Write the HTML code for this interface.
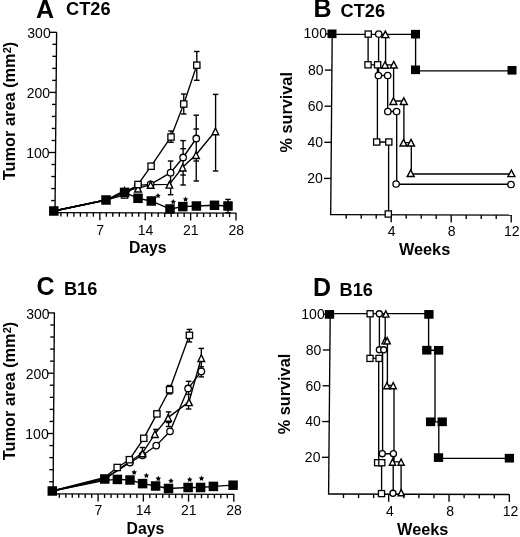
<!DOCTYPE html>
<html><head><meta charset="utf-8"><style>
html,body{margin:0;padding:0;background:#fff;}
svg{display:block;will-change:transform;}
text{font-family:"Liberation Sans",sans-serif;stroke:none;fill:#000;}
</style></head><body>
<svg width="520" height="537" viewBox="0 0 520 537">
<rect width="520" height="537" fill="#fff"/>
<g stroke="#000" fill="#000">
<line x1="56.60" y1="32.20" x2="55.00" y2="212.60" stroke-width="1.35"/>
<line x1="51.11" y1="200.58" x2="55.11" y2="200.58" stroke-width="1.35"/>
<line x1="51.21" y1="188.56" x2="55.21" y2="188.56" stroke-width="1.35"/>
<line x1="51.32" y1="176.54" x2="55.32" y2="176.54" stroke-width="1.35"/>
<line x1="51.43" y1="164.52" x2="55.43" y2="164.52" stroke-width="1.35"/>
<line x1="49.03" y1="152.50" x2="55.53" y2="152.50" stroke-width="1.35"/>
<text x="49.63" y="158.40" font-size="14.0" font-weight="normal" text-anchor="end" >100</text>
<line x1="51.64" y1="140.48" x2="55.64" y2="140.48" stroke-width="1.35"/>
<line x1="51.75" y1="128.46" x2="55.75" y2="128.46" stroke-width="1.35"/>
<line x1="51.85" y1="116.44" x2="55.85" y2="116.44" stroke-width="1.35"/>
<line x1="51.96" y1="104.42" x2="55.96" y2="104.42" stroke-width="1.35"/>
<line x1="49.57" y1="92.40" x2="56.07" y2="92.40" stroke-width="1.35"/>
<text x="50.17" y="98.30" font-size="14.0" font-weight="normal" text-anchor="end" >200</text>
<line x1="52.17" y1="80.38" x2="56.17" y2="80.38" stroke-width="1.35"/>
<line x1="52.28" y1="68.36" x2="56.28" y2="68.36" stroke-width="1.35"/>
<line x1="52.39" y1="56.34" x2="56.39" y2="56.34" stroke-width="1.35"/>
<line x1="52.49" y1="44.32" x2="56.49" y2="44.32" stroke-width="1.35"/>
<line x1="50.10" y1="32.30" x2="56.60" y2="32.30" stroke-width="1.35"/>
<text x="50.70" y="38.20" font-size="14.0" font-weight="normal" text-anchor="end" >300</text>
<line x1="54.33" y1="212.60" x2="236.30" y2="213.10" stroke-width="1.35"/>
<line x1="60.94" y1="212.62" x2="60.94" y2="216.62" stroke-width="1.35"/>
<line x1="67.42" y1="212.63" x2="67.42" y2="216.63" stroke-width="1.35"/>
<line x1="73.91" y1="212.65" x2="73.91" y2="216.65" stroke-width="1.35"/>
<line x1="80.39" y1="212.67" x2="80.39" y2="216.67" stroke-width="1.35"/>
<line x1="86.88" y1="212.69" x2="86.88" y2="216.69" stroke-width="1.35"/>
<line x1="93.36" y1="212.71" x2="93.36" y2="216.71" stroke-width="1.35"/>
<line x1="99.84" y1="212.72" x2="99.84" y2="220.22" stroke-width="1.35"/>
<text x="100.09" y="234.50" font-size="14.0" font-weight="normal" text-anchor="middle" >7</text>
<line x1="106.33" y1="212.74" x2="106.33" y2="216.74" stroke-width="1.35"/>
<line x1="112.81" y1="212.76" x2="112.81" y2="216.76" stroke-width="1.35"/>
<line x1="119.30" y1="212.78" x2="119.30" y2="216.78" stroke-width="1.35"/>
<line x1="125.79" y1="212.80" x2="125.79" y2="216.80" stroke-width="1.35"/>
<line x1="132.27" y1="212.81" x2="132.27" y2="216.81" stroke-width="1.35"/>
<line x1="138.75" y1="212.83" x2="138.75" y2="216.83" stroke-width="1.35"/>
<line x1="145.24" y1="212.85" x2="145.24" y2="220.35" stroke-width="1.35"/>
<text x="145.49" y="234.50" font-size="14.0" font-weight="normal" text-anchor="middle" >14</text>
<line x1="151.73" y1="212.87" x2="151.73" y2="216.87" stroke-width="1.35"/>
<line x1="158.21" y1="212.88" x2="158.21" y2="216.88" stroke-width="1.35"/>
<line x1="164.69" y1="212.90" x2="164.69" y2="216.90" stroke-width="1.35"/>
<line x1="171.18" y1="212.92" x2="171.18" y2="216.92" stroke-width="1.35"/>
<line x1="177.67" y1="212.94" x2="177.67" y2="216.94" stroke-width="1.35"/>
<line x1="184.15" y1="212.96" x2="184.15" y2="216.96" stroke-width="1.35"/>
<line x1="190.63" y1="212.97" x2="190.63" y2="220.47" stroke-width="1.35"/>
<text x="190.88" y="234.50" font-size="14.0" font-weight="normal" text-anchor="middle" >21</text>
<line x1="197.12" y1="212.99" x2="197.12" y2="216.99" stroke-width="1.35"/>
<line x1="203.61" y1="213.01" x2="203.61" y2="217.01" stroke-width="1.35"/>
<line x1="210.09" y1="213.03" x2="210.09" y2="217.03" stroke-width="1.35"/>
<line x1="216.57" y1="213.05" x2="216.57" y2="217.05" stroke-width="1.35"/>
<line x1="223.06" y1="213.06" x2="223.06" y2="217.06" stroke-width="1.35"/>
<line x1="229.55" y1="213.08" x2="229.55" y2="217.08" stroke-width="1.35"/>
<line x1="236.03" y1="213.10" x2="236.03" y2="220.60" stroke-width="1.35"/>
<text x="236.28" y="234.50" font-size="14.0" font-weight="normal" text-anchor="middle" >28</text>
<text x="128.90" y="253.30" font-size="15.8" font-weight="bold" text-anchor="start" >Days</text>
<text x="36.00" y="17.60" font-size="25" font-weight="bold" text-anchor="start" >A</text>
<text x="66.10" y="14.50" font-size="18.2" font-weight="bold" text-anchor="start" >CT26</text>
<text transform="translate(15.4,180.2) rotate(-90)" font-size="16.35" font-weight="bold">Tumor area (mm<tspan dy="-4.2" font-size="11">2</tspan><tspan dy="4.2">)</tspan></text>
<polyline points="53.80,211.00 106.00,200.00 124.60,192.40 138.00,198.30 151.30,201.00 170.00,209.00 182.80,206.60 196.40,206.00 214.50,205.30 228.00,206.00" fill="none" stroke-width="1.35"/>
<polyline points="53.80,211.00 106.00,200.00 124.60,195.00 138.00,184.50 151.10,166.20 171.00,137.00 183.75,104.00 196.80,65.20" fill="none" stroke-width="1.35"/>
<polyline points="53.80,211.00 106.00,200.00 124.50,192.00 138.00,185.30 150.60,184.40 170.60,172.70 183.10,157.50 196.25,138.50" fill="none" stroke-width="1.35"/>
<polyline points="53.80,211.00 106.00,200.00 124.50,190.60 138.00,188.30 150.60,184.60 169.40,184.40 182.60,167.30 196.00,154.80 215.40,131.00" fill="none" stroke-width="1.35"/>
<line x1="196.80" y1="51.50" x2="196.80" y2="80.30" stroke-width="1.35"/>
<line x1="194.05" y1="51.50" x2="199.55" y2="51.50" stroke-width="1.4"/>
<line x1="194.05" y1="80.30" x2="199.55" y2="80.30" stroke-width="1.4"/>
<line x1="183.75" y1="94.00" x2="183.75" y2="114.00" stroke-width="1.35"/>
<line x1="181.00" y1="94.00" x2="186.50" y2="94.00" stroke-width="1.4"/>
<line x1="181.00" y1="114.00" x2="186.50" y2="114.00" stroke-width="1.4"/>
<line x1="171.00" y1="131.00" x2="171.00" y2="142.30" stroke-width="1.35"/>
<line x1="168.25" y1="131.00" x2="173.75" y2="131.00" stroke-width="1.4"/>
<line x1="168.25" y1="142.30" x2="173.75" y2="142.30" stroke-width="1.4"/>
<line x1="196.25" y1="115.20" x2="196.25" y2="181.00" stroke-width="1.35"/>
<line x1="193.50" y1="115.20" x2="199.00" y2="115.20" stroke-width="1.4"/>
<line x1="193.50" y1="129.00" x2="199.00" y2="129.00" stroke-width="1.4"/>
<line x1="193.50" y1="161.00" x2="199.00" y2="161.00" stroke-width="1.4"/>
<line x1="193.50" y1="181.00" x2="199.00" y2="181.00" stroke-width="1.4"/>
<line x1="183.10" y1="140.60" x2="183.10" y2="185.00" stroke-width="1.35"/>
<line x1="180.35" y1="140.60" x2="185.85" y2="140.60" stroke-width="1.4"/>
<line x1="180.35" y1="148.70" x2="185.85" y2="148.70" stroke-width="1.4"/>
<line x1="180.35" y1="175.00" x2="185.85" y2="175.00" stroke-width="1.4"/>
<line x1="180.35" y1="185.00" x2="185.85" y2="185.00" stroke-width="1.4"/>
<line x1="170.60" y1="161.00" x2="170.60" y2="194.70" stroke-width="1.35"/>
<line x1="167.85" y1="161.00" x2="173.35" y2="161.00" stroke-width="1.4"/>
<line x1="167.85" y1="194.70" x2="173.35" y2="194.70" stroke-width="1.4"/>
<line x1="215.60" y1="94.40" x2="215.60" y2="171.00" stroke-width="1.35"/>
<line x1="212.85" y1="94.40" x2="218.35" y2="94.40" stroke-width="1.4"/>
<line x1="212.85" y1="171.00" x2="218.35" y2="171.00" stroke-width="1.4"/>
<line x1="228.00" y1="199.40" x2="228.00" y2="212.70" stroke-width="1.35"/>
<line x1="225.25" y1="199.40" x2="230.75" y2="199.40" stroke-width="1.4"/>
<line x1="225.25" y1="212.70" x2="230.75" y2="212.70" stroke-width="1.4"/>
<circle cx="124.50" cy="192.00" r="3.25" fill="#fff" stroke-width="1.3"/>
<circle cx="138.00" cy="185.30" r="3.25" fill="#fff" stroke-width="1.3"/>
<circle cx="150.60" cy="184.40" r="3.25" fill="#fff" stroke-width="1.3"/>
<circle cx="170.60" cy="172.70" r="3.25" fill="#fff" stroke-width="1.3"/>
<circle cx="183.10" cy="157.50" r="3.25" fill="#fff" stroke-width="1.3"/>
<circle cx="196.25" cy="138.50" r="3.25" fill="#fff" stroke-width="1.3"/>
<polygon points="124.50,187.60 127.81,194.30 121.19,194.30" fill="#fff" stroke-width="1.4" stroke-linejoin="miter"/>
<polygon points="138.00,185.30 141.31,192.00 134.69,192.00" fill="#fff" stroke-width="1.4" stroke-linejoin="miter"/>
<polygon points="150.60,181.60 153.91,188.30 147.29,188.30" fill="#fff" stroke-width="1.4" stroke-linejoin="miter"/>
<polygon points="169.40,181.40 172.71,188.10 166.09,188.10" fill="#fff" stroke-width="1.4" stroke-linejoin="miter"/>
<polygon points="182.60,164.30 185.91,171.00 179.29,171.00" fill="#fff" stroke-width="1.4" stroke-linejoin="miter"/>
<polygon points="196.00,151.80 199.31,158.50 192.69,158.50" fill="#fff" stroke-width="1.4" stroke-linejoin="miter"/>
<polygon points="215.40,128.00 218.71,134.70 212.09,134.70" fill="#fff" stroke-width="1.4" stroke-linejoin="miter"/>
<rect x="121.45" y="191.85" width="6.30" height="6.30" fill="#fff" stroke-width="1.3"/>
<rect x="134.85" y="181.35" width="6.30" height="6.30" fill="#fff" stroke-width="1.3"/>
<rect x="147.95" y="163.05" width="6.30" height="6.30" fill="#fff" stroke-width="1.3"/>
<rect x="167.85" y="133.85" width="6.30" height="6.30" fill="#fff" stroke-width="1.3"/>
<rect x="180.60" y="100.85" width="6.30" height="6.30" fill="#fff" stroke-width="1.3"/>
<rect x="193.65" y="62.05" width="6.30" height="6.30" fill="#fff" stroke-width="1.3"/>
<rect x="49.05" y="206.25" width="9.5" height="9.5" fill="#000" stroke="none"/>
<rect x="101.25" y="195.25" width="9.5" height="9.5" fill="#000" stroke="none"/>
<rect x="119.85" y="187.65" width="9.5" height="9.5" fill="#000" stroke="none"/>
<rect x="133.25" y="193.55" width="9.5" height="9.5" fill="#000" stroke="none"/>
<rect x="146.55" y="196.25" width="9.5" height="9.5" fill="#000" stroke="none"/>
<rect x="165.25" y="204.25" width="9.5" height="9.5" fill="#000" stroke="none"/>
<rect x="178.05" y="201.85" width="9.5" height="9.5" fill="#000" stroke="none"/>
<rect x="191.65" y="201.25" width="9.5" height="9.5" fill="#000" stroke="none"/>
<rect x="209.75" y="200.55" width="9.5" height="9.5" fill="#000" stroke="none"/>
<rect x="223.25" y="201.25" width="9.5" height="9.5" fill="#000" stroke="none"/>
<polygon points="158.00,192.90 158.85,194.63 160.76,194.90 159.38,196.25 159.70,198.15 158.00,197.25 156.30,198.15 156.62,196.25 155.24,194.90 157.15,194.63" fill="#000" stroke="none"/>
<polygon points="173.30,199.00 174.15,200.73 176.06,201.00 174.68,202.35 175.00,204.25 173.30,203.35 171.60,204.25 171.92,202.35 170.54,201.00 172.45,200.73" fill="#000" stroke="none"/>
<polygon points="185.60,196.40 186.45,198.13 188.36,198.40 186.98,199.75 187.30,201.65 185.60,200.75 183.90,201.65 184.22,199.75 182.84,198.40 184.75,198.13" fill="#000" stroke="none"/>
<line x1="332.20" y1="34.00" x2="330.70" y2="214.60" stroke-width="1.35"/>
<line x1="324.00" y1="178.40" x2="331.00" y2="178.40" stroke-width="1.35"/>
<text x="322.75" y="183.20" font-size="14.0" font-weight="normal" text-anchor="end" >20</text>
<line x1="324.30" y1="142.30" x2="331.30" y2="142.30" stroke-width="1.35"/>
<text x="323.05" y="147.10" font-size="14.0" font-weight="normal" text-anchor="end" >40</text>
<line x1="324.60" y1="106.20" x2="331.60" y2="106.20" stroke-width="1.35"/>
<text x="323.35" y="111.00" font-size="14.0" font-weight="normal" text-anchor="end" >60</text>
<line x1="324.90" y1="70.10" x2="331.90" y2="70.10" stroke-width="1.35"/>
<text x="323.65" y="74.90" font-size="14.0" font-weight="normal" text-anchor="end" >80</text>
<line x1="325.20" y1="34.00" x2="332.20" y2="34.00" stroke-width="1.35"/>
<text x="326.95" y="38.30" font-size="14.0" font-weight="normal" text-anchor="end" >100</text>
<line x1="330.02" y1="214.60" x2="511.40" y2="215.10" stroke-width="1.35"/>
<line x1="346.20" y1="214.64" x2="346.20" y2="218.64" stroke-width="1.35"/>
<line x1="361.20" y1="214.68" x2="361.20" y2="218.68" stroke-width="1.35"/>
<line x1="376.20" y1="214.73" x2="376.20" y2="218.73" stroke-width="1.35"/>
<line x1="391.20" y1="214.77" x2="391.20" y2="222.27" stroke-width="1.35"/>
<text x="391.70" y="235.90" font-size="14.0" font-weight="normal" text-anchor="middle" >4</text>
<line x1="406.20" y1="214.81" x2="406.20" y2="218.81" stroke-width="1.35"/>
<line x1="421.20" y1="214.85" x2="421.20" y2="218.85" stroke-width="1.35"/>
<line x1="436.20" y1="214.89" x2="436.20" y2="218.89" stroke-width="1.35"/>
<line x1="451.20" y1="214.93" x2="451.20" y2="222.43" stroke-width="1.35"/>
<text x="451.70" y="235.90" font-size="14.0" font-weight="normal" text-anchor="middle" >8</text>
<line x1="466.20" y1="214.97" x2="466.20" y2="218.97" stroke-width="1.35"/>
<line x1="481.20" y1="215.02" x2="481.20" y2="219.02" stroke-width="1.35"/>
<line x1="496.20" y1="215.06" x2="496.20" y2="219.06" stroke-width="1.35"/>
<line x1="511.20" y1="215.10" x2="511.20" y2="222.60" stroke-width="1.35"/>
<text x="511.70" y="235.90" font-size="14.0" font-weight="normal" text-anchor="middle" >12</text>
<text x="398.90" y="254.90" font-size="16.3" font-weight="bold" text-anchor="start" >Weeks</text>
<text x="313.60" y="17.40" font-size="25" font-weight="bold" text-anchor="start" >B</text>
<text x="340.60" y="17.00" font-size="18.2" font-weight="bold" text-anchor="start" >CT26</text>
<text transform="translate(291.8,152.6) rotate(-90)" font-size="16.3" font-weight="bold">% survival</text>
<polyline points="332.00,34.40 415.60,34.40 415.60,70.80 512.00,70.80" fill="none" stroke-width="1.35"/>
<polyline points="368.10,34.40 368.10,64.80 377.40,64.80 377.40,142.00 388.60,142.00 388.60,214.00" fill="none" stroke-width="1.35"/>
<polyline points="378.60,34.40 378.60,75.50 387.70,75.50 387.70,111.50 396.70,111.50 396.70,184.20 510.90,184.20" fill="none" stroke-width="1.35"/>
<polyline points="385.60,34.40 385.60,64.80 393.60,64.80 393.60,101.00 403.90,101.00 403.90,142.60 411.30,142.60 411.30,174.00 511.20,174.00" fill="none" stroke-width="1.35"/>
<circle cx="378.70" cy="34.10" r="3.20" fill="#fff" stroke-width="1.3"/>
<circle cx="378.40" cy="75.50" r="3.20" fill="#fff" stroke-width="1.3"/>
<circle cx="387.70" cy="75.50" r="3.20" fill="#fff" stroke-width="1.3"/>
<circle cx="387.80" cy="111.60" r="3.20" fill="#fff" stroke-width="1.3"/>
<circle cx="396.60" cy="111.60" r="3.20" fill="#fff" stroke-width="1.3"/>
<circle cx="396.10" cy="184.00" r="3.20" fill="#fff" stroke-width="1.3"/>
<circle cx="511.00" cy="184.50" r="3.20" fill="#fff" stroke-width="1.3"/>
<polygon points="385.40,31.05 388.91,37.65 381.89,37.65" fill="#fff" stroke-width="1.4" stroke-linejoin="miter"/>
<polygon points="385.00,61.65 388.51,68.25 381.49,68.25" fill="#fff" stroke-width="1.4" stroke-linejoin="miter"/>
<polygon points="393.70,61.45 397.21,68.05 390.19,68.05" fill="#fff" stroke-width="1.4" stroke-linejoin="miter"/>
<polygon points="393.40,97.85 396.91,104.45 389.89,104.45" fill="#fff" stroke-width="1.4" stroke-linejoin="miter"/>
<polygon points="403.80,97.85 407.31,104.45 400.29,104.45" fill="#fff" stroke-width="1.4" stroke-linejoin="miter"/>
<polygon points="403.50,139.45 407.01,146.05 399.99,146.05" fill="#fff" stroke-width="1.4" stroke-linejoin="miter"/>
<polygon points="411.00,139.45 414.51,146.05 407.49,146.05" fill="#fff" stroke-width="1.4" stroke-linejoin="miter"/>
<polygon points="410.70,169.95 414.21,176.55 407.19,176.55" fill="#fff" stroke-width="1.4" stroke-linejoin="miter"/>
<polygon points="511.40,170.05 514.91,176.65 507.89,176.65" fill="#fff" stroke-width="1.4" stroke-linejoin="miter"/>
<rect x="365.10" y="31.00" width="6.20" height="6.20" fill="#fff" stroke-width="1.3"/>
<rect x="364.90" y="61.70" width="6.20" height="6.20" fill="#fff" stroke-width="1.3"/>
<rect x="374.50" y="61.70" width="6.20" height="6.20" fill="#fff" stroke-width="1.3"/>
<rect x="373.60" y="138.90" width="6.20" height="6.20" fill="#fff" stroke-width="1.3"/>
<rect x="385.70" y="138.90" width="6.20" height="6.20" fill="#fff" stroke-width="1.3"/>
<rect x="385.20" y="210.90" width="6.20" height="6.20" fill="#fff" stroke-width="1.3"/>
<rect x="327.50" y="29.50" width="9.0" height="8.6" fill="#000" stroke="none"/>
<rect x="411.00" y="29.90" width="9.0" height="8.6" fill="#000" stroke="none"/>
<rect x="411.00" y="65.50" width="9.0" height="8.6" fill="#000" stroke="none"/>
<rect x="507.50" y="66.00" width="9.0" height="8.6" fill="#000" stroke="none"/>
<line x1="54.40" y1="312.50" x2="53.10" y2="493.80" stroke-width="1.35"/>
<line x1="49.19" y1="481.74" x2="53.19" y2="481.74" stroke-width="1.35"/>
<line x1="49.27" y1="469.68" x2="53.27" y2="469.68" stroke-width="1.35"/>
<line x1="49.36" y1="457.62" x2="53.36" y2="457.62" stroke-width="1.35"/>
<line x1="49.45" y1="445.56" x2="53.45" y2="445.56" stroke-width="1.35"/>
<line x1="47.03" y1="433.50" x2="53.53" y2="433.50" stroke-width="1.35"/>
<text x="48.68" y="439.40" font-size="14.0" font-weight="normal" text-anchor="end" >100</text>
<line x1="49.62" y1="421.44" x2="53.62" y2="421.44" stroke-width="1.35"/>
<line x1="49.71" y1="409.38" x2="53.71" y2="409.38" stroke-width="1.35"/>
<line x1="49.79" y1="397.32" x2="53.79" y2="397.32" stroke-width="1.35"/>
<line x1="49.88" y1="385.26" x2="53.88" y2="385.26" stroke-width="1.35"/>
<line x1="47.46" y1="373.20" x2="53.96" y2="373.20" stroke-width="1.35"/>
<text x="49.11" y="379.10" font-size="14.0" font-weight="normal" text-anchor="end" >200</text>
<line x1="50.05" y1="361.14" x2="54.05" y2="361.14" stroke-width="1.35"/>
<line x1="50.14" y1="349.08" x2="54.14" y2="349.08" stroke-width="1.35"/>
<line x1="50.22" y1="337.02" x2="54.22" y2="337.02" stroke-width="1.35"/>
<line x1="50.31" y1="324.96" x2="54.31" y2="324.96" stroke-width="1.35"/>
<line x1="47.90" y1="312.90" x2="54.40" y2="312.90" stroke-width="1.35"/>
<text x="49.55" y="318.80" font-size="14.0" font-weight="normal" text-anchor="end" >300</text>
<line x1="52.43" y1="493.80" x2="234.30" y2="494.30" stroke-width="1.35"/>
<line x1="59.36" y1="493.82" x2="59.36" y2="497.82" stroke-width="1.35"/>
<line x1="65.82" y1="493.84" x2="65.82" y2="497.84" stroke-width="1.35"/>
<line x1="72.28" y1="493.85" x2="72.28" y2="497.85" stroke-width="1.35"/>
<line x1="78.74" y1="493.87" x2="78.74" y2="497.87" stroke-width="1.35"/>
<line x1="85.20" y1="493.89" x2="85.20" y2="497.89" stroke-width="1.35"/>
<line x1="91.66" y1="493.91" x2="91.66" y2="497.91" stroke-width="1.35"/>
<line x1="98.12" y1="493.92" x2="98.12" y2="501.42" stroke-width="1.35"/>
<text x="98.37" y="514.70" font-size="14.0" font-weight="normal" text-anchor="middle" >7</text>
<line x1="104.58" y1="493.94" x2="104.58" y2="497.94" stroke-width="1.35"/>
<line x1="111.04" y1="493.96" x2="111.04" y2="497.96" stroke-width="1.35"/>
<line x1="117.50" y1="493.98" x2="117.50" y2="497.98" stroke-width="1.35"/>
<line x1="123.96" y1="494.00" x2="123.96" y2="498.00" stroke-width="1.35"/>
<line x1="130.42" y1="494.01" x2="130.42" y2="498.01" stroke-width="1.35"/>
<line x1="136.88" y1="494.03" x2="136.88" y2="498.03" stroke-width="1.35"/>
<line x1="143.34" y1="494.05" x2="143.34" y2="501.55" stroke-width="1.35"/>
<text x="143.59" y="514.70" font-size="14.0" font-weight="normal" text-anchor="middle" >14</text>
<line x1="149.80" y1="494.07" x2="149.80" y2="498.07" stroke-width="1.35"/>
<line x1="156.26" y1="494.08" x2="156.26" y2="498.08" stroke-width="1.35"/>
<line x1="162.72" y1="494.10" x2="162.72" y2="498.10" stroke-width="1.35"/>
<line x1="169.18" y1="494.12" x2="169.18" y2="498.12" stroke-width="1.35"/>
<line x1="175.64" y1="494.14" x2="175.64" y2="498.14" stroke-width="1.35"/>
<line x1="182.10" y1="494.16" x2="182.10" y2="498.16" stroke-width="1.35"/>
<line x1="188.56" y1="494.17" x2="188.56" y2="501.67" stroke-width="1.35"/>
<text x="188.81" y="514.70" font-size="14.0" font-weight="normal" text-anchor="middle" >21</text>
<line x1="195.02" y1="494.19" x2="195.02" y2="498.19" stroke-width="1.35"/>
<line x1="201.48" y1="494.21" x2="201.48" y2="498.21" stroke-width="1.35"/>
<line x1="207.94" y1="494.23" x2="207.94" y2="498.23" stroke-width="1.35"/>
<line x1="214.40" y1="494.25" x2="214.40" y2="498.25" stroke-width="1.35"/>
<line x1="220.86" y1="494.26" x2="220.86" y2="498.26" stroke-width="1.35"/>
<line x1="227.32" y1="494.28" x2="227.32" y2="498.28" stroke-width="1.35"/>
<line x1="233.78" y1="494.30" x2="233.78" y2="501.80" stroke-width="1.35"/>
<text x="234.03" y="514.70" font-size="14.0" font-weight="normal" text-anchor="middle" >28</text>
<text x="126.60" y="533.60" font-size="15.8" font-weight="bold" text-anchor="start" >Days</text>
<text x="36.60" y="295.20" font-size="25" font-weight="bold" text-anchor="start" >C</text>
<text x="63.90" y="295.00" font-size="18.2" font-weight="bold" text-anchor="start" >B16</text>
<text transform="translate(15.4,460.2) rotate(-90)" font-size="16.35" font-weight="bold">Tumor area (mm<tspan dy="-4.2" font-size="11">2</tspan><tspan dy="4.2">)</tspan></text>
<polyline points="52.30,491.00 104.80,480.30 117.40,479.40 130.00,480.00 142.60,483.60 155.60,486.00 168.50,488.50 188.10,487.50 200.60,487.50 213.40,486.40 233.10,485.20" fill="none" stroke-width="1.35"/>
<polyline points="52.30,491.00 104.80,477.30 117.20,467.50 129.40,459.70 143.75,438.30 156.90,413.90 169.60,389.70 189.40,335.30" fill="none" stroke-width="1.35"/>
<polyline points="52.30,491.00 104.80,478.30 117.20,471.00 130.00,462.50 142.50,455.30 156.25,445.60 170.00,431.30 188.10,388.50 201.30,371.40" fill="none" stroke-width="1.35"/>
<polyline points="52.30,491.00 104.80,479.30 117.20,470.00 130.00,461.50 142.50,453.10 154.90,433.80 168.10,417.60 189.00,401.90 201.30,357.80" fill="none" stroke-width="1.35"/>
<line x1="189.40" y1="329.40" x2="189.40" y2="341.90" stroke-width="1.35"/>
<line x1="186.65" y1="329.40" x2="192.15" y2="329.40" stroke-width="1.4"/>
<line x1="186.65" y1="341.90" x2="192.15" y2="341.90" stroke-width="1.4"/>
<line x1="169.60" y1="385.50" x2="169.60" y2="393.90" stroke-width="1.35"/>
<line x1="166.85" y1="385.50" x2="172.35" y2="385.50" stroke-width="1.4"/>
<line x1="166.85" y1="393.90" x2="172.35" y2="393.90" stroke-width="1.4"/>
<line x1="201.30" y1="348.40" x2="201.30" y2="376.90" stroke-width="1.35"/>
<line x1="198.55" y1="348.40" x2="204.05" y2="348.40" stroke-width="1.4"/>
<line x1="198.55" y1="366.80" x2="204.05" y2="366.80" stroke-width="1.4"/>
<line x1="198.55" y1="376.90" x2="204.05" y2="376.90" stroke-width="1.4"/>
<line x1="188.60" y1="381.30" x2="188.60" y2="409.00" stroke-width="1.35"/>
<line x1="185.85" y1="381.30" x2="191.35" y2="381.30" stroke-width="1.4"/>
<line x1="185.85" y1="394.40" x2="191.35" y2="394.40" stroke-width="1.4"/>
<line x1="185.85" y1="409.00" x2="191.35" y2="409.00" stroke-width="1.4"/>
<line x1="168.60" y1="411.90" x2="168.60" y2="426.50" stroke-width="1.35"/>
<line x1="165.85" y1="411.90" x2="171.35" y2="411.90" stroke-width="1.4"/>
<line x1="165.85" y1="422.50" x2="171.35" y2="422.50" stroke-width="1.4"/>
<line x1="165.85" y1="426.50" x2="171.35" y2="426.50" stroke-width="1.4"/>
<line x1="155.90" y1="429.40" x2="155.90" y2="437.00" stroke-width="1.35"/>
<line x1="153.15" y1="429.40" x2="158.65" y2="429.40" stroke-width="1.4"/>
<line x1="142.50" y1="447.50" x2="142.50" y2="452.00" stroke-width="1.35"/>
<line x1="139.75" y1="447.50" x2="145.25" y2="447.50" stroke-width="1.4"/>
<circle cx="130.00" cy="462.50" r="3.25" fill="#fff" stroke-width="1.3"/>
<circle cx="142.50" cy="455.30" r="3.25" fill="#fff" stroke-width="1.3"/>
<circle cx="156.25" cy="445.60" r="3.25" fill="#fff" stroke-width="1.3"/>
<circle cx="170.00" cy="431.30" r="3.25" fill="#fff" stroke-width="1.3"/>
<circle cx="188.10" cy="388.50" r="3.25" fill="#fff" stroke-width="1.3"/>
<circle cx="201.30" cy="371.40" r="3.25" fill="#fff" stroke-width="1.3"/>
<polygon points="142.50,450.10 145.81,456.80 139.19,456.80" fill="#fff" stroke-width="1.4" stroke-linejoin="miter"/>
<polygon points="154.90,430.80 158.21,437.50 151.59,437.50" fill="#fff" stroke-width="1.4" stroke-linejoin="miter"/>
<polygon points="168.10,414.60 171.41,421.30 164.79,421.30" fill="#fff" stroke-width="1.4" stroke-linejoin="miter"/>
<polygon points="189.00,398.90 192.31,405.60 185.69,405.60" fill="#fff" stroke-width="1.4" stroke-linejoin="miter"/>
<polygon points="201.30,354.80 204.61,361.50 197.99,361.50" fill="#fff" stroke-width="1.4" stroke-linejoin="miter"/>
<rect x="114.05" y="464.35" width="6.30" height="6.30" fill="#fff" stroke-width="1.3"/>
<rect x="126.25" y="456.55" width="6.30" height="6.30" fill="#fff" stroke-width="1.3"/>
<rect x="140.60" y="435.15" width="6.30" height="6.30" fill="#fff" stroke-width="1.3"/>
<rect x="153.75" y="410.75" width="6.30" height="6.30" fill="#fff" stroke-width="1.3"/>
<rect x="166.45" y="386.55" width="6.30" height="6.30" fill="#fff" stroke-width="1.3"/>
<rect x="186.25" y="332.15" width="6.30" height="6.30" fill="#fff" stroke-width="1.3"/>
<rect x="47.55" y="486.25" width="9.5" height="9.5" fill="#000" stroke="none"/>
<rect x="100.05" y="474.25" width="9.5" height="9.5" fill="#000" stroke="none"/>
<rect x="112.65" y="474.65" width="9.5" height="9.5" fill="#000" stroke="none"/>
<rect x="125.25" y="475.25" width="9.5" height="9.5" fill="#000" stroke="none"/>
<rect x="137.85" y="478.85" width="9.5" height="9.5" fill="#000" stroke="none"/>
<rect x="150.85" y="481.25" width="9.5" height="9.5" fill="#000" stroke="none"/>
<rect x="163.75" y="483.75" width="9.5" height="9.5" fill="#000" stroke="none"/>
<rect x="183.35" y="482.75" width="9.5" height="9.5" fill="#000" stroke="none"/>
<rect x="195.85" y="482.75" width="9.5" height="9.5" fill="#000" stroke="none"/>
<rect x="208.65" y="481.65" width="9.5" height="9.5" fill="#000" stroke="none"/>
<rect x="228.35" y="480.45" width="9.5" height="9.5" fill="#000" stroke="none"/>
<polygon points="134.20,469.60 135.05,471.33 136.96,471.60 135.58,472.95 135.90,474.85 134.20,473.95 132.50,474.85 132.82,472.95 131.44,471.60 133.35,471.33" fill="#000" stroke="none"/>
<polygon points="146.40,472.70 147.25,474.43 149.16,474.70 147.78,476.05 148.10,477.95 146.40,477.05 144.70,477.95 145.02,476.05 143.64,474.70 145.55,474.43" fill="#000" stroke="none"/>
<polygon points="158.30,475.80 159.15,477.53 161.06,477.80 159.68,479.15 160.00,481.05 158.30,480.15 156.60,481.05 156.92,479.15 155.54,477.80 157.45,477.53" fill="#000" stroke="none"/>
<polygon points="171.00,477.90 171.85,479.63 173.76,479.90 172.38,481.25 172.70,483.15 171.00,482.25 169.30,483.15 169.62,481.25 168.24,479.90 170.15,479.63" fill="#000" stroke="none"/>
<polygon points="189.75,476.70 190.60,478.43 192.51,478.70 191.13,480.05 191.45,481.95 189.75,481.05 188.05,481.95 188.37,480.05 186.99,478.70 188.90,478.43" fill="#000" stroke="none"/>
<polygon points="201.50,475.60 202.35,477.33 204.26,477.60 202.88,478.95 203.20,480.85 201.50,479.95 199.80,480.85 200.12,478.95 198.74,477.60 200.65,477.33" fill="#000" stroke="none"/>
<line x1="330.20" y1="314.20" x2="328.60" y2="494.00" stroke-width="1.35"/>
<line x1="321.93" y1="457.32" x2="328.93" y2="457.32" stroke-width="1.35"/>
<text x="320.43" y="462.12" font-size="14.0" font-weight="normal" text-anchor="end" >20</text>
<line x1="322.24" y1="421.54" x2="329.24" y2="421.54" stroke-width="1.35"/>
<text x="320.74" y="426.34" font-size="14.0" font-weight="normal" text-anchor="end" >40</text>
<line x1="322.56" y1="385.76" x2="329.56" y2="385.76" stroke-width="1.35"/>
<text x="321.06" y="390.56" font-size="14.0" font-weight="normal" text-anchor="end" >60</text>
<line x1="322.88" y1="349.98" x2="329.88" y2="349.98" stroke-width="1.35"/>
<text x="321.38" y="354.78" font-size="14.0" font-weight="normal" text-anchor="end" >80</text>
<line x1="323.20" y1="314.20" x2="330.20" y2="314.20" stroke-width="1.35"/>
<text x="324.70" y="318.50" font-size="14.0" font-weight="normal" text-anchor="end" >100</text>
<line x1="327.93" y1="494.00" x2="509.60" y2="494.50" stroke-width="1.35"/>
<line x1="343.48" y1="494.04" x2="343.48" y2="498.04" stroke-width="1.35"/>
<line x1="358.56" y1="494.08" x2="358.56" y2="498.08" stroke-width="1.35"/>
<line x1="373.64" y1="494.12" x2="373.64" y2="498.12" stroke-width="1.35"/>
<line x1="388.72" y1="494.17" x2="388.72" y2="501.67" stroke-width="1.35"/>
<text x="389.82" y="516.10" font-size="14.0" font-weight="normal" text-anchor="middle" >4</text>
<line x1="403.80" y1="494.21" x2="403.80" y2="498.21" stroke-width="1.35"/>
<line x1="418.88" y1="494.25" x2="418.88" y2="498.25" stroke-width="1.35"/>
<line x1="433.96" y1="494.29" x2="433.96" y2="498.29" stroke-width="1.35"/>
<line x1="449.04" y1="494.33" x2="449.04" y2="501.83" stroke-width="1.35"/>
<text x="450.14" y="516.10" font-size="14.0" font-weight="normal" text-anchor="middle" >8</text>
<line x1="464.12" y1="494.37" x2="464.12" y2="498.37" stroke-width="1.35"/>
<line x1="479.20" y1="494.42" x2="479.20" y2="498.42" stroke-width="1.35"/>
<line x1="494.28" y1="494.46" x2="494.28" y2="498.46" stroke-width="1.35"/>
<line x1="509.36" y1="494.50" x2="509.36" y2="502.00" stroke-width="1.35"/>
<text x="510.46" y="516.10" font-size="14.0" font-weight="normal" text-anchor="middle" >12</text>
<text x="397.10" y="535.00" font-size="16.3" font-weight="bold" text-anchor="start" >Weeks</text>
<text x="312.90" y="295.60" font-size="25" font-weight="bold" text-anchor="start" >D</text>
<text x="339.60" y="296.30" font-size="18.2" font-weight="bold" text-anchor="start" >B16</text>
<text transform="translate(289.7,434.3) rotate(-90)" font-size="16.3" font-weight="bold">% survival</text>
<polyline points="333.00,313.60 428.60,313.60 428.60,350.20 435.00,350.20 435.00,421.80 438.80,421.80 438.80,458.40 509.40,458.40" fill="none" stroke-width="1.35"/>
<polyline points="370.10,313.60 370.10,358.40 378.70,358.40 378.70,462.70 381.60,462.70 381.60,493.50" fill="none" stroke-width="1.35"/>
<polyline points="379.40,313.60 379.40,349.80 382.60,349.80 382.60,453.70 393.20,453.70 393.20,493.00" fill="none" stroke-width="1.35"/>
<polyline points="385.20,313.60 385.20,341.00 387.40,341.00 387.40,385.50 394.00,385.50 394.00,461.80 401.10,461.80 401.10,492.00" fill="none" stroke-width="1.35"/>
<circle cx="379.30" cy="313.80" r="3.05" fill="#fff" stroke-width="1.3"/>
<circle cx="379.40" cy="349.80" r="3.05" fill="#fff" stroke-width="1.3"/>
<circle cx="383.70" cy="349.80" r="3.05" fill="#fff" stroke-width="1.3"/>
<circle cx="382.30" cy="453.70" r="3.05" fill="#fff" stroke-width="1.3"/>
<circle cx="393.40" cy="453.70" r="3.05" fill="#fff" stroke-width="1.3"/>
<circle cx="393.00" cy="493.30" r="3.05" fill="#fff" stroke-width="1.3"/>
<polygon points="385.80,310.80 388.91,317.10 382.69,317.10" fill="#fff" stroke-width="1.4" stroke-linejoin="miter"/>
<polygon points="385.10,337.60 388.21,343.90 381.99,343.90" fill="#fff" stroke-width="1.4" stroke-linejoin="miter"/>
<polygon points="387.20,337.60 390.31,343.90 384.09,343.90" fill="#fff" stroke-width="1.4" stroke-linejoin="miter"/>
<polygon points="386.90,382.50 390.01,388.80 383.79,388.80" fill="#fff" stroke-width="1.4" stroke-linejoin="miter"/>
<polygon points="393.20,382.50 396.31,388.80 390.09,388.80" fill="#fff" stroke-width="1.4" stroke-linejoin="miter"/>
<polygon points="392.50,459.00 395.61,465.30 389.39,465.30" fill="#fff" stroke-width="1.4" stroke-linejoin="miter"/>
<polygon points="401.10,459.00 404.21,465.30 397.99,465.30" fill="#fff" stroke-width="1.4" stroke-linejoin="miter"/>
<polygon points="401.20,489.40 404.31,495.70 398.09,495.70" fill="#fff" stroke-width="1.4" stroke-linejoin="miter"/>
<rect x="367.05" y="310.75" width="6.10" height="6.10" fill="#fff" stroke-width="1.3"/>
<rect x="366.95" y="355.35" width="6.10" height="6.10" fill="#fff" stroke-width="1.3"/>
<rect x="375.95" y="355.35" width="6.10" height="6.10" fill="#fff" stroke-width="1.3"/>
<rect x="374.55" y="459.65" width="6.10" height="6.10" fill="#fff" stroke-width="1.3"/>
<rect x="378.75" y="459.65" width="6.10" height="6.10" fill="#fff" stroke-width="1.3"/>
<rect x="378.45" y="490.55" width="6.10" height="6.10" fill="#fff" stroke-width="1.3"/>
<rect x="324.85" y="310.05" width="9.3" height="8.7" fill="#000" stroke="none"/>
<rect x="424.25" y="310.05" width="9.3" height="8.7" fill="#000" stroke="none"/>
<rect x="422.15" y="345.85" width="9.3" height="8.7" fill="#000" stroke="none"/>
<rect x="433.95" y="345.95" width="9.3" height="8.7" fill="#000" stroke="none"/>
<rect x="425.95" y="417.45" width="9.3" height="8.7" fill="#000" stroke="none"/>
<rect x="437.55" y="417.45" width="9.3" height="8.7" fill="#000" stroke="none"/>
<rect x="433.85" y="453.25" width="9.3" height="8.7" fill="#000" stroke="none"/>
<rect x="504.75" y="453.85" width="9.3" height="8.7" fill="#000" stroke="none"/>
</g>
</svg>
</body></html>
